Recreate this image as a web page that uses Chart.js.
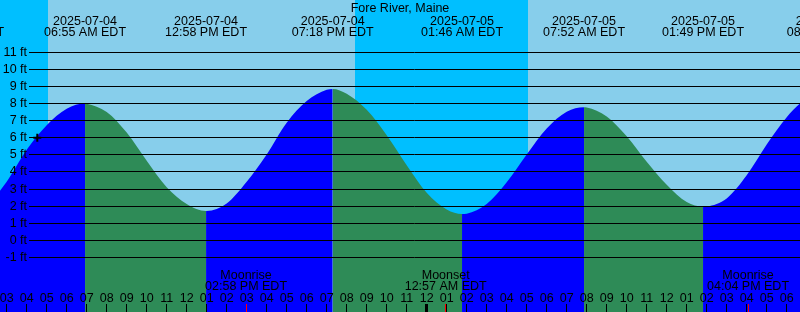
<!DOCTYPE html>
<html>
<head>
<meta charset="utf-8">
<title>Fore River, Maine</title>
<script src="https://cdn.jsdelivr.net/npm/chart.js@4.4.1/dist/chart.umd.min.js"></script>
<style>
    html, body { margin: 0; padding: 0; background: #87ceeb; overflow: hidden; }
    canvas { display: block; }
</style>
</head>
<body>
<canvas id="tideChart" width="800" height="312"></canvas>
<script>
// Tide graph for Fore River - hours are counted from 2025-07-04 00:00 EDT

const stationName = 'Fore River, Maine';

// Hourly water level readings (ft)
const hourTicks = [0, 1, 2, 3, 4, 5, 6, 7, 8, 9, 10, 11, 12, 13, 14, 15, 16, 17, 18, 19, 20, 21, 22,
    23, 24, 25, 26, 27, 28, 29, 30, 31, 32, 33, 34, 35, 36, 37, 38, 39, 40, 41, 42, 43, 44];
const hourLevels = [1.75, 1.52, 2.05, 3.43, 5.29, 6.73, 7.7, 7.99, 7.51, 6.3, 4.65, 3.1, 2.12, 1.71,
    2.15, 3.42, 5.02, 6.88, 8.14, 8.8, 8.57, 7.63, 6.14, 4.39, 2.78, 1.8, 1.56, 2.12, 3.39, 5.02, 6.54,
    7.52, 7.77, 7.24, 6.08, 4.59, 3.25, 2.24, 1.98, 2.45, 3.8, 5.6, 7.2, 8.3, 8.8];

// High / low tide events
const eventHours = [0.817, 6.917, 12.967, 19.3, 25.767, 31.867, 37.817, 44.05];
const eventLevels = [1.5, 8.0, 1.71, 8.85, 1.54, 7.78, 1.97, 8.82];
const eventDates = ['2025-07-04', '2025-07-04', '2025-07-04', '2025-07-04',
    '2025-07-05', '2025-07-05', '2025-07-05', '2025-07-05'];
const eventTimes = ['12:49 AM EDT', '06:55 AM EDT', '12:58 PM EDT', '07:18 PM EDT',
    '01:46 AM EDT', '07:52 AM EDT', '01:49 PM EDT', '08:03 PM EDT'];

// Sun and moon
const sunriseHours = [5.067, 29.067];
const sunsetHours = [20.417, 44.45];
const moonHours = [14.967, 24.95, 40.067];
const moonNames = ['Moonrise', 'Moonset', 'Moonrise'];
const moonTimes = ['02:58 PM EDT', '12:57 AM EDT', '04:04 PM EDT'];

// Depth lines (ft)
const depthTicks = [-1, 0, 1, 2, 3, 4, 5, 6, 7, 8, 9, 10, 11];

// "+" mark
const markerHour = 4.53;
const markerLevel = 6;

const DAY_COLOR = '#87ceeb';
const NIGHT_COLOR = '#00bfff';
const RISING_COLOR = '#0000ff';
const FALLING_COLOR = '#2e8b57';
const FONT = '12.5px "Liberation Sans", Arial, sans-serif';

// merge hourly readings and events into one sorted series
const tidePoints = hourTicks.map((h, i) => ({ x: h, y: hourLevels[i] }))
    .concat(eventHours.map((h, i) => ({ x: h, y: eventLevels[i] })))
    .sort((a, b) => a.x - b.x);

function hourLabel(h) {
    const v = ((h % 12) + 12) % 12 || 12;
    return String(v).padStart(2, '0');
}

const tideDecor = {
    id: 'tideDecor',
    beforeDatasetsDraw(chart) {
        const { ctx, chartArea: a, scales: { x } } = chart;
        ctx.save();
        ctx.fillStyle = DAY_COLOR;
        ctx.fillRect(a.left, a.top, a.right - a.left, a.bottom - a.top);

        // night = from previous sunset (or left edge) to sunrise
        const nights = sunriseHours.map((rise, i) => [i === 0 ? x.min : sunsetHours[i - 1], rise]);
        const lastSet = sunsetHours[sunsetHours.length - 1];
        if (lastSet > sunriseHours[sunriseHours.length - 1]) nights.push([lastSet, x.max]);

        ctx.fillStyle = NIGHT_COLOR;
        nights.forEach(([from, to]) => {
            const x0 = Math.max(a.left, Math.round(x.getPixelForValue(from)));
            const x1 = Math.min(a.right, Math.round(x.getPixelForValue(to)));
            if (x1 > x0) ctx.fillRect(x0, a.top, x1 - x0, a.bottom - a.top);
        });
        ctx.restore();
    },
    afterDatasetDraw(chart, args) {
        if (args.index !== 0) return;
        const { ctx, chartArea: a, scales: { x, y } } = chart;
        ctx.save();

        // depth lines and labels
        ctx.strokeStyle = '#000';
        ctx.lineWidth = 1;
        ctx.font = FONT;
        ctx.fillStyle = '#000';
        ctx.textAlign = 'right';
        ctx.textBaseline = 'alphabetic';
        depthTicks.forEach(v => {
            const py = Math.floor(y.getPixelForValue(v)) + 0.5;
            ctx.beginPath();
            ctx.moveTo(29, py);
            ctx.lineTo(a.right, py);
            ctx.stroke();
            ctx.fillText(v + ' ft', 27, py + 3.5);
        });

        // title
        ctx.textAlign = 'center';
        ctx.fillText(stationName, (a.left + a.right) / 2, 12);

        // high / low labels
        eventHours.forEach((h, i) => {
            const px = x.getPixelForValue(h);
            ctx.fillText(eventDates[i], px, 25);
            ctx.fillText(eventTimes[i], px, 36);
        });

        // moon labels
        moonHours.forEach((h, i) => {
            const px = x.getPixelForValue(h);
            ctx.fillText(moonNames[i], px, 279);
            ctx.fillText(moonTimes[i], px, 290);
        });

        // hour ticks and labels
        for (let h = Math.ceil(x.min); h <= Math.floor(x.max); h++) {
            const px = x.getPixelForValue(h);
            ctx.fillStyle = '#000';
            ctx.fillText(hourLabel(h), px, 302);
            if (h % 24 === 0) {
                ctx.fillRect(Math.floor(px) - 1, 304, 3, 8);
            } else {
                ctx.fillRect(Math.floor(px), 304, 1, 8);
            }
        }

        // moon ticks
        ctx.fillStyle = '#ff0000';
        moonHours.forEach(h => {
            ctx.fillRect(Math.floor(x.getPixelForValue(h)), 304, 1, 8);
        });

        ctx.restore();
    }
};

new Chart(document.getElementById('tideChart'), {
    type: 'line',
    data: {
        datasets: [
            {
                label: 'Water level',
                data: tidePoints,
                order: 2,
                fill: 'start',
                backgroundColor: RISING_COLOR,
                borderColor: 'rgba(0,0,0,0)',
                borderWidth: 0,
                pointRadius: 0,
                cubicInterpolationMode: 'monotone',
                segment: {
                    backgroundColor: c => c.p1.parsed.y >= c.p0.parsed.y ? RISING_COLOR : FALLING_COLOR
                }
            },
            {
                label: 'Mark',
                data: [{ x: markerHour, y: markerLevel }],
                order: 1,
                showLine: false,
                fill: false,
                pointStyle: 'cross',
                pointRadius: 4,
                borderColor: '#000',
                backgroundColor: '#000',
                borderWidth: 2
            }
        ]
    },
    options: {
        responsive: false,
        animation: false,
        layout: { padding: 0, autoPadding: false },
        events: [],
        plugins: {
            legend: { display: false },
            tooltip: { enabled: false },
            title: { display: false }
        },
        scales: {
            x: { type: 'linear', display: false, min: 2.665, max: 42.665 },
            y: { type: 'linear', display: false, min: -4.193, max: 14.053 }
        }
    },
    plugins: [tideDecor]
});
</script>
</body>
</html>
